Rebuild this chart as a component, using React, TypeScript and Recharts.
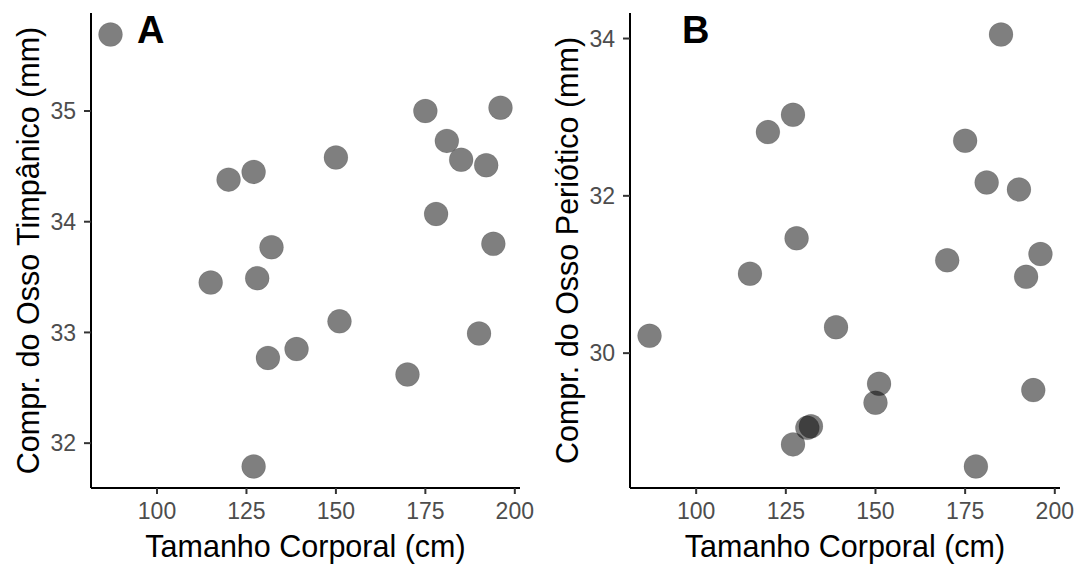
import { ScatterChart, Scatter, XAxis, YAxis } from 'recharts'

// body size (cm) shared by both panels
const tamanho = [87, 175, 196, 181, 185, 192, 150, 120, 127, 178, 194, 132, 115, 128, 151, 190, 131, 139, 170, 127]
// tympanic bone length (mm)
const timpanico = [35.69, 35.0, 35.03, 34.73, 34.56, 34.51, 34.58, 34.38, 34.45, 34.07, 33.8, 33.77, 33.45, 33.49, 33.1, 32.99, 32.77, 32.85, 32.62, 31.79]
// periotic bone length (mm)
const periotico = [30.22, 32.7, 31.26, 32.17, 34.05, 30.97, 29.37, 32.81, 33.03, 28.56, 29.53, 29.07, 31.01, 31.46, 29.61, 32.08, 29.05, 30.33, 31.18, 28.84]

const xTicks = [100, 125, 150, 175, 200]
const yTicksA = [32, 33, 34, 35]
const yTicksB = [30, 32, 34]

const FONT = '"Liberation Sans", Arial, sans-serif'

// ggplot-style 5% expansion
function expand(vals: number[]): [number, number] {
  const lo = Math.min(...vals)
  const hi = Math.max(...vals)
  const pad = (hi - lo) * 0.05
  return [lo - pad, hi + pad]
}

const dot = (p: any) => <circle cx={p.cx} cy={p.cy} r={12} fill="#000" fillOpacity={0.5} stroke="#000" strokeOpacity={0.15} strokeWidth={0.6} />

const yTitle = (text: string, x: number) => (props: any) => {
  const vb = props.viewBox
  const cy = vb.y + vb.height / 2
  return (
    <text x={x} y={cy} transform={`rotate(-90, ${x}, ${cy})`} textAnchor="middle" dominantBaseline="central"
      fontFamily={FONT} fontSize={30.5} fill="#000">
      {text}
    </text>
  )
}

const xTitle = (props: any) => {
  const vb = props.viewBox
  return (
    <text x={vb.x + vb.width / 2} y={557} textAnchor="middle" fontFamily={FONT} fontSize={30.5} fill="#000">
      Tamanho Corporal (cm)
    </text>
  )
}

const tickStyle = { fontSize: 23, fill: '#4D4D4D', fontFamily: FONT }

function Panel({ values, yTicks, yLabel, letter, yAxisWidth, titleX, right }: any) {
  const data = tamanho.map((t, i) => ({ x: t, y: values[i] }))
  return (
    <ScatterChart width={541} height={565} margin={{ top: 13, right, bottom: 0, left: 0 }}>
      <XAxis
        type="number" dataKey="x" domain={expand(tamanho)} ticks={xTicks} height={77}
        tick={tickStyle} tickSize={6} tickMargin={9}
        axisLine={{ stroke: '#000', strokeWidth: 2 }} tickLine={{ stroke: '#333', strokeWidth: 2 }}
        allowDataOverflow label={{ content: xTitle }}
      />
      <YAxis
        type="number" dataKey="y" domain={expand(values)} ticks={yTicks} width={yAxisWidth}
        tick={tickStyle} tickSize={7} tickMargin={8}
        axisLine={{ stroke: '#000', strokeWidth: 2 }} tickLine={{ stroke: '#333', strokeWidth: 2 }}
        allowDataOverflow label={{ content: yTitle(yLabel, titleX) }}
      />
      <Scatter data={data} shape={dot} isAnimationActive={false} />
      <text x={letter.x} y={43} fontFamily={FONT} fontWeight="bold" fontSize={38} fill="#000">{letter.t}</text>
    </ScatterChart>
  )
}

export default function App() {
  return (
    <div style={{ position: 'absolute', left: 0, top: 0, width: 1082, height: 565, background: '#fff' }}>
      <div style={{ position: 'absolute', left: 0, top: 0 }}>
        <Panel values={timpanico} yTicks={yTicksA} yLabel="Compr. do Osso Timpânico (mm)"
          letter={{ t: 'A', x: 137 }} yAxisWidth={91} titleX={28} right={21} />
      </div>
      <div style={{ position: 'absolute', left: 541, top: 0 }}>
        <Panel values={periotico} yTicks={yTicksB} yLabel="Compr. do Osso Periótico (mm)"
          letter={{ t: 'B', x: 141 }} yAxisWidth={89} titleX={26} right={22} />
      </div>
    </div>
  )
}
